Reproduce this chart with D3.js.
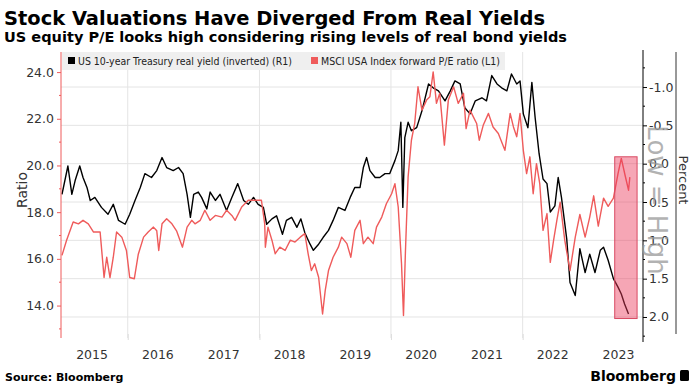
<!DOCTYPE html>
<html>
<head>
<meta charset="utf-8">
<script src="https://cdn.jsdelivr.net/npm/d3@7"></script>
<style>
  body { margin: 0; background: #fff; }
  svg { display: block; }
  text { font-family: "DejaVu Sans", Verdana, sans-serif; }
</style>
</head>
<body>
<svg id="chart" width="695" height="392"></svg>
<script>
// ---- data ----
const years = [2015, 2016, 2017, 2018, 2019, 2020, 2021, 2022, 2023];
const gridYears = [2016, 2018, 2020, 2022];
const peTicks = [14, 16, 18, 20, 22, 24];
const peMinorTicks = [13, 15, 17, 19, 21, 23];
const yieldTicks = [-1, -0.5, 0, 0.5, 1, 1.5, 2];
const yieldMinorTicks = [-1.25, -0.75, -0.25, 0.25, 0.75, 1.25, 1.75, 2.25];

// US 10-year Treasury real yield, percent [decimal year, value] (R1, inverted)
const yieldSeries = [
  [2015.00, 0.40], [2015.09, 0.03], [2015.15, 0.40], [2015.20, 0.22], [2015.27, 0.03],
  [2015.32, 0.18], [2015.38, 0.31], [2015.43, 0.48], [2015.50, 0.44], [2015.60, 0.57],
  [2015.70, 0.66], [2015.78, 0.53], [2015.86, 0.74], [2015.96, 0.79], [2016.03, 0.66],
  [2016.11, 0.48], [2016.19, 0.31], [2016.26, 0.13], [2016.36, 0.18], [2016.44, 0.09],
  [2016.52, -0.08], [2016.59, 0.05], [2016.69, 0.09], [2016.77, 0.05], [2016.84, 0.13],
  [2016.90, 0.40], [2016.95, 0.70], [2017.00, 0.40], [2017.07, 0.37], [2017.12, 0.44],
  [2017.20, 0.59], [2017.25, 0.37], [2017.33, 0.48], [2017.40, 0.40], [2017.50, 0.61],
  [2017.58, 0.44], [2017.67, 0.26], [2017.76, 0.48], [2017.83, 0.53], [2017.91, 0.44],
  [2017.98, 0.53], [2018.06, 0.57], [2018.11, 0.79], [2018.19, 0.72], [2018.26, 0.68],
  [2018.35, 0.92], [2018.41, 0.74], [2018.49, 0.70], [2018.57, 0.83], [2018.63, 0.72],
  [2018.69, 0.90], [2018.77, 1.05], [2018.82, 1.13], [2018.90, 1.05], [2018.97, 0.96],
  [2019.05, 0.87], [2019.12, 0.74], [2019.20, 0.57], [2019.30, 0.61], [2019.38, 0.44],
  [2019.45, 0.31], [2019.53, 0.31], [2019.58, 0.05], [2019.63, -0.08], [2019.68, 0.09],
  [2019.76, 0.18], [2019.83, 0.18], [2019.91, 0.13], [2019.98, 0.13], [2020.06, -0.04],
  [2020.11, -0.17], [2020.15, -0.54], [2020.18, 0.57], [2020.21, -0.34], [2020.26, -0.54],
  [2020.31, -0.43], [2020.39, -0.47], [2020.47, -0.69], [2020.57, -1.04], [2020.64, -0.99],
  [2020.72, -0.95], [2020.82, -0.82], [2020.90, -0.95], [2020.97, -1.08], [2021.05, -1.04],
  [2021.12, -0.73], [2021.20, -0.65], [2021.28, -0.82], [2021.38, -0.86], [2021.45, -0.82],
  [2021.53, -1.15], [2021.61, -1.04], [2021.68, -0.99], [2021.76, -0.95], [2021.83, -1.17],
  [2021.91, -1.04], [2021.96, -1.08], [2022.01, -0.65], [2022.08, -0.47], [2022.14, -1.06],
  [2022.19, -0.60], [2022.25, -0.13], [2022.31, 0.20], [2022.37, 0.26], [2022.42, 0.63],
  [2022.49, 0.55], [2022.54, 0.18], [2022.59, 0.44], [2022.67, 0.98], [2022.72, 1.55],
  [2022.80, 1.72], [2022.87, 1.11], [2022.95, 1.42], [2023.02, 1.18], [2023.10, 1.42],
  [2023.18, 1.13], [2023.23, 1.09], [2023.30, 1.26], [2023.38, 1.50], [2023.45, 1.61],
  [2023.50, 1.70], [2023.55, 1.83], [2023.61, 1.96]
];

// MSCI USA Index forward P/E ratio [decimal year, value] (L1)
const peSeries = [
  [2015.00, 16.15], [2015.07, 16.80], [2015.17, 17.58], [2015.25, 17.50], [2015.32, 17.65],
  [2015.40, 17.50], [2015.48, 17.15], [2015.58, 17.15], [2015.64, 15.20], [2015.68, 16.07],
  [2015.73, 15.20], [2015.78, 16.07], [2015.83, 17.15], [2015.91, 16.93], [2015.98, 16.36],
  [2016.03, 15.20], [2016.10, 15.15], [2016.16, 16.20], [2016.24, 16.93], [2016.31, 17.15],
  [2016.39, 17.36], [2016.44, 17.20], [2016.47, 16.36], [2016.52, 17.50], [2016.59, 17.72],
  [2016.67, 17.50], [2016.74, 17.20], [2016.83, 16.50], [2016.90, 17.36], [2016.97, 17.65],
  [2017.02, 17.50], [2017.10, 17.65], [2017.17, 18.08], [2017.25, 17.65], [2017.33, 17.86],
  [2017.43, 17.79], [2017.50, 18.08], [2017.58, 17.86], [2017.63, 17.65], [2017.73, 18.22],
  [2017.83, 18.51], [2017.93, 18.51], [2018.03, 18.51], [2018.08, 17.50], [2018.09, 16.50],
  [2018.13, 17.36], [2018.19, 16.80], [2018.24, 16.22], [2018.31, 16.50], [2018.39, 16.36],
  [2018.47, 16.80], [2018.54, 16.72], [2018.62, 16.93], [2018.69, 17.08], [2018.74, 16.22],
  [2018.79, 15.50], [2018.84, 15.79], [2018.90, 15.21], [2018.96, 13.64], [2019.00, 14.64],
  [2019.05, 15.50], [2019.12, 16.07], [2019.20, 16.50], [2019.25, 16.93], [2019.33, 16.65],
  [2019.39, 16.07], [2019.45, 17.22], [2019.53, 17.65], [2019.58, 16.65], [2019.65, 16.93],
  [2019.73, 16.65], [2019.78, 17.36], [2019.86, 17.79], [2019.93, 18.36], [2020.01, 18.79],
  [2020.06, 19.22], [2020.11, 18.22], [2020.16, 15.79], [2020.19, 13.57], [2020.22, 16.36],
  [2020.26, 19.51], [2020.31, 21.08], [2020.36, 21.80], [2020.41, 23.37], [2020.47, 22.37],
  [2020.54, 22.80], [2020.59, 22.94], [2020.64, 24.01], [2020.69, 22.66], [2020.74, 23.09],
  [2020.81, 20.87], [2020.87, 22.80], [2020.95, 23.37], [2021.02, 22.66], [2021.10, 23.09],
  [2021.14, 21.58], [2021.20, 22.37], [2021.25, 22.08], [2021.30, 21.80], [2021.34, 21.08],
  [2021.40, 21.72], [2021.48, 22.23], [2021.55, 21.65], [2021.63, 21.37], [2021.73, 20.65],
  [2021.81, 22.23], [2021.86, 21.65], [2021.91, 21.23], [2021.96, 22.23], [2022.01, 20.65],
  [2022.06, 19.65], [2022.11, 20.37], [2022.16, 18.79], [2022.21, 20.08], [2022.26, 19.22],
  [2022.31, 17.22], [2022.37, 17.94], [2022.42, 15.85], [2022.47, 16.79], [2022.52, 17.65],
  [2022.57, 18.43], [2022.64, 16.80], [2022.72, 15.50], [2022.80, 16.93], [2022.87, 17.90],
  [2022.95, 16.93], [2023.02, 17.79], [2023.08, 18.70], [2023.15, 17.40], [2023.23, 18.60],
  [2023.30, 18.25], [2023.38, 18.60], [2023.45, 19.65], [2023.50, 20.30], [2023.56, 19.55],
  [2023.61, 18.94], [2023.63, 19.50]
];

// highlighted window: [start, end] in years, [top, bottom] in real-yield percent
const highlightYears = [2023.40, 2023.74];
const highlightYield = [-0.09, 2.02];

// ---- helpers ----
function toDate(t) {
  const y = Math.floor(t);
  const s = Date.UTC(y, 0, 1), e = Date.UTC(y + 1, 0, 1);
  return new Date(s + (t - y) * (e - s));
}

const svg = d3.select('#chart');
const plot = { left: 61, right: 643, top: 52, bottom: 338 };

const x = d3.scaleUtc()
  .domain([toDate(2014.985), toDate(2023.83)])
  .range([plot.left, plot.right]);
const yPE = d3.scaleLinear()
  .domain([12.61, 24.86])
  .range([plot.bottom, plot.top]);
// inverted: higher yields sit lower
const yYield = d3.scaleLinear()
  .domain([-1.457, 2.274])
  .range([plot.top, plot.bottom]);

const red = '#ef5b5b';
const tickFont = '"Liberation Sans", Arial, sans-serif';

// titles
svg.append('text')
  .attr('x', 4).attr('y', 25)
  .attr('font-size', 20).attr('font-weight', 'bold')
  .attr('textLength', 541).attr('lengthAdjust', 'spacingAndGlyphs')
  .text('Stock Valuations Have Diverged From Real Yields');
svg.append('text')
  .attr('x', 4).attr('y', 42)
  .attr('font-size', 14.5).attr('font-weight', 'bold')
  .attr('textLength', 563).attr('lengthAdjust', 'spacingAndGlyphs')
  .text('US equity P/E looks high considering rising levels of real bond yields');

// grid
svg.append('g')
  .selectAll('line')
  .data(yieldTicks)
  .join('line')
    .attr('x1', plot.left).attr('x2', plot.right)
    .attr('y1', d => yYield(d)).attr('y2', d => yYield(d))
    .attr('stroke', '#e4e4e4');
svg.append('g')
  .selectAll('line')
  .data(gridYears)
  .join('line')
    .attr('x1', d => x(toDate(d))).attr('x2', d => x(toDate(d)))
    .attr('y1', plot.top).attr('y2', plot.bottom)
    .attr('stroke', '#e4e4e4');

// legend strip
const legend = svg.append('g');
legend.append('rect')
  .attr('x', 62).attr('y', 52).attr('width', 443).attr('height', 18)
  .attr('fill', '#efefef');
legend.append('rect')
  .attr('x', 68).attr('y', 57).attr('width', 7).attr('height', 7).attr('fill', '#000');
legend.append('text')
  .attr('x', 78).attr('y', 65).attr('font-size', 11).attr('fill', '#222')
  .attr('textLength', 214).attr('lengthAdjust', 'spacingAndGlyphs')
  .text('US 10-year Treasury real yield (inverted) (R1)');
legend.append('rect')
  .attr('x', 311).attr('y', 57).attr('width', 7).attr('height', 7).attr('fill', red);
legend.append('text')
  .attr('x', 321).attr('y', 65).attr('font-size', 11).attr('fill', '#222')
  .attr('textLength', 179).attr('lengthAdjust', 'spacingAndGlyphs')
  .text('MSCI USA Index forward P/E ratio (L1)');

// lines
const yieldLine = d3.line()
  .x(d => x(toDate(d[0])))
  .y(d => yYield(d[1]));
const peLine = d3.line()
  .x(d => x(toDate(d[0])))
  .y(d => yPE(d[1]));

svg.append('path')
  .datum(yieldSeries)
  .attr('d', yieldLine)
  .attr('fill', 'none').attr('stroke', '#000').attr('stroke-width', 1.4)
  .attr('stroke-linejoin', 'round');
svg.append('path')
  .datum(peSeries)
  .attr('d', peLine)
  .attr('fill', 'none').attr('stroke', red).attr('stroke-width', 1.4)
  .attr('stroke-linejoin', 'round');

// highlight box
svg.append('rect')
  .attr('x', x(toDate(highlightYears[0])))
  .attr('width', x(toDate(highlightYears[1])) - x(toDate(highlightYears[0])))
  .attr('y', yYield(highlightYield[0]))
  .attr('height', yYield(highlightYield[1]) - yYield(highlightYield[0]))
  .attr('fill', '#ec3a5a').attr('fill-opacity', 0.45)
  .attr('stroke', '#d84a62').attr('stroke-width', 1);

// left axis (P/E)
const leftAxis = svg.append('g')
  .attr('transform', `translate(${plot.left},0)`)
  .call(d3.axisLeft(yPE).tickValues(peTicks).tickSize(4).tickPadding(3)
    .tickFormat(d => d.toFixed(1)));
leftAxis.append('g')
  .selectAll('line')
  .data(peMinorTicks)
  .join('line')
    .attr('x1', -2).attr('x2', 0)
    .attr('y1', d => yPE(d)).attr('y2', d => yPE(d))
    .attr('stroke', red);
leftAxis.select('.domain').attr('stroke', red).attr('d', `M0,${plot.top}V${plot.bottom}`);
leftAxis.selectAll('.tick line').attr('stroke', red);
leftAxis.selectAll('.tick text')
  .attr('font-family', tickFont).attr('font-size', 12.5).attr('fill', '#333');

// right axis (real yield)
const rightAxis = svg.append('g')
  .attr('transform', `translate(${plot.right},0)`)
  .call(d3.axisRight(yYield).tickValues(yieldTicks).tickSize(4).tickPadding(2)
    .tickFormat(d => d.toFixed(1)));
rightAxis.append('g')
  .selectAll('line')
  .data(yieldMinorTicks)
  .join('line')
    .attr('x1', 0).attr('x2', 2)
    .attr('y1', d => yYield(d)).attr('y2', d => yYield(d))
    .attr('stroke', '#000');
rightAxis.select('.domain').attr('stroke', '#000').attr('d', `M0,${plot.top - 2}V${plot.bottom + 4}`);
rightAxis.selectAll('.tick text')
  .attr('font-family', tickFont).attr('font-size', 12.5).attr('fill', '#333');

// bottom axis: 2-year ticks, labels mid-year
const bottomTicks = svg.append('g')
  .attr('transform', `translate(0,${plot.bottom - 4})`)
  .call(d3.axisBottom(x).tickValues(gridYears.map(toDate)).tickSize(6).tickFormat(''));
bottomTicks.select('.domain').remove();
bottomTicks.selectAll('.tick line').attr('stroke', '#ddd');

const bottomLabels = svg.append('g')
  .attr('transform', `translate(0,${plot.bottom + 9})`)
  .call(d3.axisBottom(x).tickValues(years.map(y => toDate(y + 0.45))).tickSize(0)
    .tickFormat(d => d.getUTCFullYear()));
bottomLabels.select('.domain').remove();
bottomLabels.selectAll('.tick text')
  .attr('font-family', tickFont).attr('font-size', 12.5).attr('fill', '#333');

// right frame line
svg.append('line')
  .attr('x1', 676).attr('x2', 676).attr('y1', plot.top).attr('y2', plot.bottom - 4)
  .attr('stroke', '#333');

// axis titles
svg.append('text')
  .attr('transform', 'translate(27,190) rotate(-90)')
  .attr('text-anchor', 'middle').attr('font-size', 14).attr('fill', '#333')
  .text('Ratio');
svg.append('text')
  .attr('transform', 'translate(679,180) rotate(90)')
  .attr('text-anchor', 'middle').attr('font-size', 13).attr('fill', '#333')
  .text('Percent');
svg.append('text')
  .attr('transform', 'translate(648,200) rotate(90)')
  .attr('text-anchor', 'middle').attr('font-size', 26).attr('fill', '#999')
  .attr('fill-opacity', 0.75)
  .text('Low = High');

// footer
svg.append('text')
  .attr('x', 5).attr('y', 381)
  .attr('font-size', 11).attr('font-weight', 'bold')
  .text('Source: Bloomberg');
svg.append('text')
  .attr('x', 676).attr('y', 381)
  .attr('text-anchor', 'end')
  .attr('font-family', tickFont)
  .attr('font-size', 14).attr('font-weight', 'bold')
  .text('Bloomberg');
svg.append('rect')
  .attr('x', 680).attr('y', 370).attr('width', 9).attr('height', 11).attr('rx', 1.5)
  .attr('fill', '#000');
</script>
</body>
</html>
